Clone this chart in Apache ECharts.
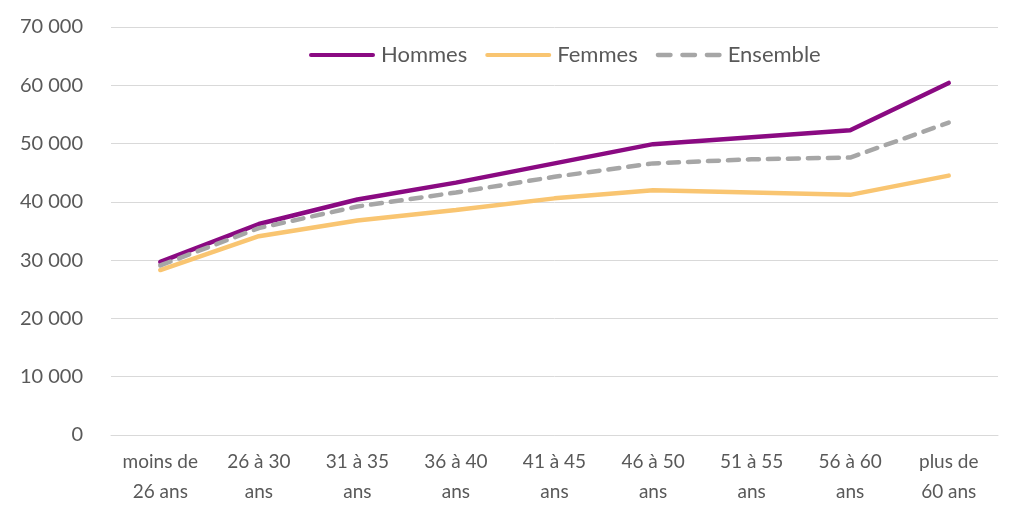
<!DOCTYPE html>
<html><head><meta charset="utf-8">
<script src="https://cdn.jsdelivr.net/npm/echarts@6/dist/echarts.min.js"></script>
<style>html,body{margin:0;padding:0;background:#fff}#c{width:1024px;height:526px}</style>
</head><body><div id="c"></div>
<script>
const categories = ["moins de\n26 ans","26 à 30\nans","31 à 35\nans","36 à 40\nans","41 à 45\nans","46 à 50\nans","51 à 55\nans","56 à 60\nans","plus de\n60 ans"];
const hommes = [29700, 36200, 40400, 43300, 46600, 49900, 51100, 52300, 60400];
const femmes = [28300, 34100, 36800, 38600, 40600, 42000, 41600, 41200, 44500];
const ensemble = [29100, 35500, 39200, 41600, 44300, 46600, 47300, 47600, 53600];
const yTicks = {min: 0, max: 70000, interval: 10000};

const font = 'Lato, "Open Sans", sans-serif';
const solidIcon = 'path://M2,0 H64 A2,2 0 0 1 64,4 H2 A2,2 0 0 1 2,0 Z';
const dashIcon = 'path://M2,0 H14 A2,2 0 0 1 14,4 H2 A2,2 0 0 1 2,0 Z M25,0 H37 A2,2 0 0 1 37,4 H25 A2,2 0 0 1 25,0 Z M48,0 H60 A2,2 0 0 1 60,4 H48 A2,2 0 0 1 48,0 Z';
const chart = echarts.init(document.getElementById('c'));
chart.setOption({
  animation: false,
  grid: {left: 111, right: 26, top: 27, bottom: 91},
  legend: {
    top: 39, left: 304,
    itemWidth: 66, itemHeight: 5, itemGap: 18,
    textStyle: {fontFamily: font, fontSize: 22, color: '#595959', padding: [0,0,0,1]},
    data: [{name:'Hommes', icon: solidIcon},{name:'Femmes', icon: solidIcon},{name:'Ensemble', icon: dashIcon}]
  },
  xAxis: {
    type: 'category', data: categories, boundaryGap: true,
    axisLine: {lineStyle: {color: '#d9d9d9', width: 1}},
    axisTick: {show: false},
    axisLabel: {fontFamily: font, fontSize: 19, color: '#595959', lineHeight: 30, margin: 12, interval: 0}
  },
  yAxis: {
    type: 'value', min: yTicks.min, max: yTicks.max, interval: yTicks.interval,
    axisLine: {show: false}, axisTick: {show: false},
    splitLine: {lineStyle: {color: '#d9d9d9', width: 1}},
    axisLabel: {fontFamily: font, fontSize: 20, color: '#595959', margin: 28,
      formatter: v => String(v).replace(/\B(?=(\d{3})+(?!\d))/g, ' ')}
  },
  series: [
    {name: 'Hommes', type: 'line', data: hommes, symbol: 'none', lineStyle: {color: '#8a0a82', width: 4.5, cap: 'round'}, itemStyle: {color: '#8a0a82'}},
    {name: 'Femmes', type: 'line', data: femmes, symbol: 'none', lineStyle: {color: '#f9c571', width: 4.5, cap: 'round'}, itemStyle: {color: '#f9c571'}},
    {name: 'Ensemble', type: 'line', data: ensemble, symbol: 'none', lineStyle: {color: '#a6a6a6', width: 4.5, type: [11, 9], cap: 'round'}, itemStyle: {color: '#a6a6a6'}, z: 3}
  ]
});
</script></body></html>
